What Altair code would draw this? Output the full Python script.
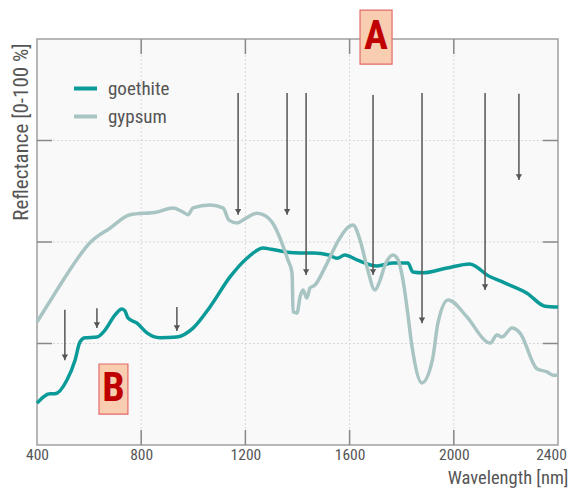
import altair as alt
import pandas as pd

FONT = "Roboto Condensed, Roboto, sans-serif"

# ---- spectra (wavelength nm, reflectance %) ----
goethite_wl = [400, 450, 469, 515, 546, 565, 584, 630, 661, 699, 726, 738, 749, 784, 822, 872, 937, 999,
               1064, 1141, 1206, 1268, 1300, 1360, 1410, 1460, 1520, 1552, 1582, 1628, 1705, 1767, 1824,
               1843, 1882, 1974, 2062, 2089, 2127, 2189, 2281, 2350, 2400]
goethite_val = [10.3, 12.6, 12.6, 16, 20.9, 25.4, 26.4, 26.6, 28.3, 32, 33.5, 33, 31.3, 30, 27.6, 26.4, 26.6,
                28.8, 34, 41.4, 46, 48.5, 48.2, 47.5, 47.3, 47.3, 46.8, 46, 46.8, 45.6, 44.1, 44.8, 44.8,
                42.6, 42.4, 43.6, 44.6, 43.8, 41.9, 40.1, 37.4, 34.2, 34]

gypsum_wl = [400, 477, 538, 603, 680, 757, 861, 922, 965, 980, 999, 1064, 1114, 1137, 1168, 1200, 1244,
             1275, 1302, 1340, 1363, 1379, 1383, 1398, 1410, 1421, 1436, 1448, 1467, 1506, 1552, 1590,
             1613, 1640, 1667, 1697, 1717, 1736, 1767, 1786, 1805, 1820, 1840, 1878, 1918, 1939, 1978,
             2051, 2127, 2139, 2166, 2185, 2223, 2254, 2319, 2358, 2381, 2400]
gypsum_val = [30.3, 38.2, 44.3, 49.8, 53.4, 56.7, 57.4, 58.4, 57.2, 56.7, 58.4, 59.1, 58.4, 55.4, 54.7, 55.8,
              57.1, 56.5, 54.9, 49.8, 45.6, 42.4, 32.8, 32.5, 36.5, 38.2, 36.2, 38.7, 39.4, 43.8, 49.8,
              53.4, 54.2, 50.5, 43.8, 38.2, 40.6, 44.3, 46.8, 45.6, 40.6, 34.0, 24.1, 15.3, 21.0, 30.0,
              35.7, 31.5, 25.4, 25.1, 27.1, 26.6, 28.8, 27.6, 18.8, 18.0, 17.2, 17.2]

series_names = ["goethite", "gypsum"]
series_colors = ["#0a9a98", "#a8c5c3"]

# ---- absorption-feature arrows ----
arrow_wl = [1172, 1360, 1433, 1690, 1878, 2120, 2250, 507, 630, 937]
arrow_top = [86.7, 86.7, 86.7, 86.2, 86.7, 86.7, 86.5, 33.3, 33.7, 34.0]
arrow_tip = [56.7, 56.7, 41.9, 41.9, 30.0, 38.2, 65.3, 20.9, 28.8, 28.1]

# ---- axes ----
x_ticks = [400, 800, 1200, 1600, 2000, 2400]
x_grid = [800, 1200, 1600, 2000]
y_grid = [25, 50, 75]

# ---- annotation boxes ----
box_labels = ["A", "B"]
box_x1 = [1640, 638]
box_x2 = [1763, 749]
box_y1 = [93.8, 7.6]
box_y2 = [107.1, 19.95]
box_tx = [1701, 694]
box_ty = [100.4, 13.8]

W, H = 521, 406
xs = alt.Scale(domain=[400, 2400], nice=False, zero=False)
ys = alt.Scale(domain=[0, 100], nice=False, zero=False)

spec = pd.DataFrame(
    [{"wl": w, "val": v, "mineral": "goethite"} for w, v in zip(goethite_wl, goethite_val)]
    + [{"wl": w, "val": v, "mineral": "gypsum"} for w, v in zip(gypsum_wl, gypsum_val)]
)
arrows = pd.DataFrame({"wl": arrow_wl, "top": arrow_top, "tip": arrow_tip})
vgrid = pd.DataFrame({"x": x_grid, "y0": [0] * 4, "y1": [100] * 4,
                      "b0": [0] * 4, "b1": [3.7] * 4, "t0": [100] * 4, "t1": [96.3] * 4})
hgrid = pd.DataFrame({"y": y_grid, "x0": [400] * 3, "x1": [2400] * 3,
                      "l0": [400] * 3, "l1": [457.6] * 3, "r0": [2400] * 3, "r1": [2342.4] * 3})
boxes = pd.DataFrame({"lab": box_labels, "x1": box_x1, "x2": box_x2, "y1": box_y1, "y2": box_y2,
                      "tx": box_tx, "ty": box_ty})

xaxis = alt.Axis(values=x_ticks, format="d", labelFontSize=15.5, labelColor="#555", labelFont=FONT,
                 labelFlush=False, ticks=False, domain=False, grid=False, labelPadding=2,
                 labelOffset=alt.condition("datum.value == 2400", alt.value(-7), alt.value(0)),
                 title="Wavelength [nm]", titleFont=FONT, titleFontSize=18.5, titleFontWeight="normal",
                 titleColor="#555", titleAlign="right", titleBaseline="alphabetic",
                 titleX=531, titleY=38)
yaxis = alt.Axis(labels=False, ticks=False, domain=False, grid=False,
                 title="Reflectance [0-100 %]", titleFont=FONT, titleFontSize=21, titleFontWeight="normal",
                 titleColor="#555", titleAnchor="end", titleAlign="right", titleBaseline="middle",
                 titleAngle=-90, titleX=-16, titleY=4)

grid_v = alt.Chart(vgrid).mark_rule(color="#d8d8d8", strokeDash=[2, 2], strokeWidth=1).encode(
    x=alt.X("x:Q", scale=xs, axis=xaxis), y=alt.Y("y0:Q", scale=ys, axis=yaxis), y2="y1:Q")
grid_h = alt.Chart(hgrid).mark_rule(color="#d8d8d8", strokeDash=[2, 2], strokeWidth=1).encode(
    y="y:Q", x="x0:Q", x2="x1:Q")
tick_b = alt.Chart(vgrid).mark_rule(color="#888", strokeWidth=1.5).encode(x="x:Q", y="b0:Q", y2="b1:Q")
tick_t = alt.Chart(vgrid).mark_rule(color="#888", strokeWidth=1.5).encode(x="x:Q", y="t0:Q", y2="t1:Q")
tick_l = alt.Chart(hgrid).mark_rule(color="#888", strokeWidth=1.5).encode(y="y:Q", x="l0:Q", x2="l1:Q")
tick_r = alt.Chart(hgrid).mark_rule(color="#888", strokeWidth=1.5).encode(y="y:Q", x="r0:Q", x2="r1:Q")

lines = alt.Chart(spec).mark_line(strokeWidth=3.5, interpolate="monotone").encode(
    x="wl:Q", y="val:Q",
    color=alt.Color("mineral:N", scale=alt.Scale(domain=series_names, range=series_colors),
                    legend=alt.Legend(title=None, orient="none", legendX=35, legendY=36,
                                      symbolType="stroke", symbolSize=529, symbolStrokeWidth=4,
                                      labelFontSize=19, labelFont=FONT, labelColor="#555",
                                      labelOffset=9, rowPadding=4, padding=0)),
    order=alt.Order("mineral:N", sort="descending"),
)

arrow_lines = alt.Chart(arrows).mark_rule(color="#555", strokeWidth=1.5).encode(
    x="wl:Q", y="top:Q", y2="tip:Q")
arrow_heads = alt.Chart(arrows).mark_point(shape="triangle-down", filled=True, color="#555",
                                           size=40, opacity=1, yOffset=-3).encode(x="wl:Q", y="tip:Q")

box_rect = alt.Chart(boxes).mark_rect(fill="#f8cdb0", stroke="#e46a6a", strokeWidth=1.2).encode(
    x="x1:Q", x2="x2:Q", y="y1:Q", y2="y2:Q")
box_text = alt.Chart(boxes).mark_text(font=FONT, fontSize=40, fontWeight="bold", color="#c00000",
                                      baseline="middle", align="center").encode(
    x="tx:Q", y="ty:Q", text="lab:N")

chart = alt.layer(grid_v, grid_h, tick_b, tick_t, tick_l, tick_r, lines, arrow_lines, arrow_heads,
                  box_rect, box_text).resolve_scale(color="independent").properties(
    width=W, height=H,
    padding={"left": 29, "top": 31, "right": 11, "bottom": 45},
    autosize=alt.AutoSizeParams(type="none"),
).configure_view(fill="#f9f9f9", stroke="#a0a0a0", strokeWidth=1.5)

chart.save("out.html", embed_options={"renderer": "svg", "actions": False})
